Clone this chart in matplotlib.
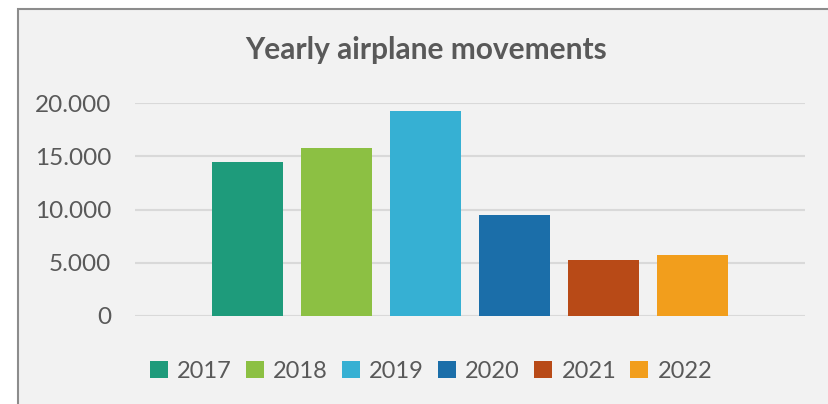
import matplotlib
matplotlib.use("Agg")
import matplotlib.pyplot as plt
from matplotlib.patches import Patch, Rectangle
from matplotlib.ticker import FuncFormatter

years = ["2017", "2018", "2019", "2020", "2021", "2022"]
movements = [14450, 15780, 19250, 9480, 5260, 5730]
colors = ["#1e9b7b", "#8cc043", "#36b0d3", "#1b6ea9", "#b84a17", "#f29e1c"]
yticks = [0, 5000, 10000, 15000, 20000]
title = "Yearly airplane movements"

plt.rcParams['font.family'] = ['Lato', 'DejaVu Sans']
txt = "#595959"
bg = "#f2f2f2"

fig = plt.figure(figsize=(8.29, 4.04), dpi=100)
fig.patch.set_facecolor("white")
# chart area background + border (right/bottom edges fall outside the image)
fig.patches.append(Rectangle((18/829, -0.1), 1.2, 1.1 - 9/404, transform=fig.transFigure,
                             facecolor=bg, edgecolor="#8c8c8c", linewidth=1.5, zorder=-1))

ax = fig.add_axes([135/829, 88/404, 670/829, 213/404])
ax.set_facecolor(bg)
x = list(range(len(years)))
ax.bar(x, movements, width=0.8, color=colors, zorder=3)
ax.set_xlim(-1.265, 6.265)
ax.set_ylim(0, 20000)
ax.set_yticks(yticks)
ax.yaxis.set_major_formatter(FuncFormatter(lambda v, p: f"{int(v):,}".replace(",", ".")))
ax.grid(axis="y", color="#d9d9d9", linewidth=1.5, zorder=0)
ax.set_xticks([])
for s in ax.spines.values():
    s.set_visible(False)
ax.tick_params(axis="y", length=0, pad=17, labelsize=17.5, labelcolor=txt)

fig.text(426/829, 1 - 50/404, title, ha="center", va="center", fontsize=21.5,
         fontweight="bold", color=txt)

handles = [Patch(facecolor=c, label=y) for c, y in zip(colors, years)]
fig.legend(handles=handles, loc="center", bbox_to_anchor=(431/829, 1 - 371/404), ncol=6,
           frameon=False, fontsize=17, handlelength=0.75, handleheight=0.75,
           handletextpad=0.4, columnspacing=0.6, labelcolor=txt)

fig.savefig("out.png", dpi=100, facecolor=fig.get_facecolor())
